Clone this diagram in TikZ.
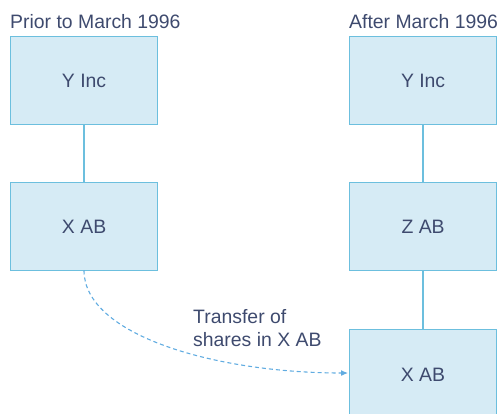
\documentclass[tikz,border=0pt]{standalone}
\usepackage{fontspec}
\setmainfont{Liberation Sans}
\usetikzlibrary{arrows.meta}
\definecolor{boxfill}{HTML}{D6EBF5}
\definecolor{boxline}{HTML}{6CBFDE}
\definecolor{txt}{HTML}{3E4A6E}
\begin{document}
\begin{tikzpicture}[x=1pt,y=-1pt,
  every node/.style={text=txt,font=\fontsize{19.4}{23}\selectfont,inner sep=0pt},
  entity/.style={draw=boxline,fill=boxfill,line width=1.2pt,minimum width=147pt,minimum height=88pt,anchor=north west},
  link/.style={draw=boxline,line width=1.3pt},
  transfer/.style={draw=boxline!90!blue,line width=1.1pt,dash pattern=on 4pt off 3pt,-{Latex[length=7pt,width=6pt]}}]
\useasboundingbox (0,0) rectangle (500,413);
\clip (0,0) rectangle (500,413);
\node[anchor=base west] (t1) at (10,28) {Prior to March 1996};
\node[anchor=base west] (t2) at (349,28) {After March 1996};
\node[entity] (yl) at (10,36) {Y Inc};
\node[entity] (xl) at (10,182) {X AB};
\node[entity] (yr) at (349,36) {Y Inc};
\node[entity] (zr) at (349,182) {Z AB};
\node[entity,minimum height=120pt] (xr) at (349,329) {};
\node (xrl) at (423,375) {X AB};
\draw[link] (yl.south) -- (xl.north);
\draw[link] (yr.south) -- (zr.north);
\draw[link] (zr.south) -- (xr.north);
\coordinate (s) at (84,270.5);
\coordinate (e) at (348,373);
\draw[transfer] (s) .. controls (84,335) and (215,373) .. (e);
\node[anchor=west,align=left] (lab) at (193,328) {Transfer of\\shares in X AB};
\end{tikzpicture}
\end{document}
